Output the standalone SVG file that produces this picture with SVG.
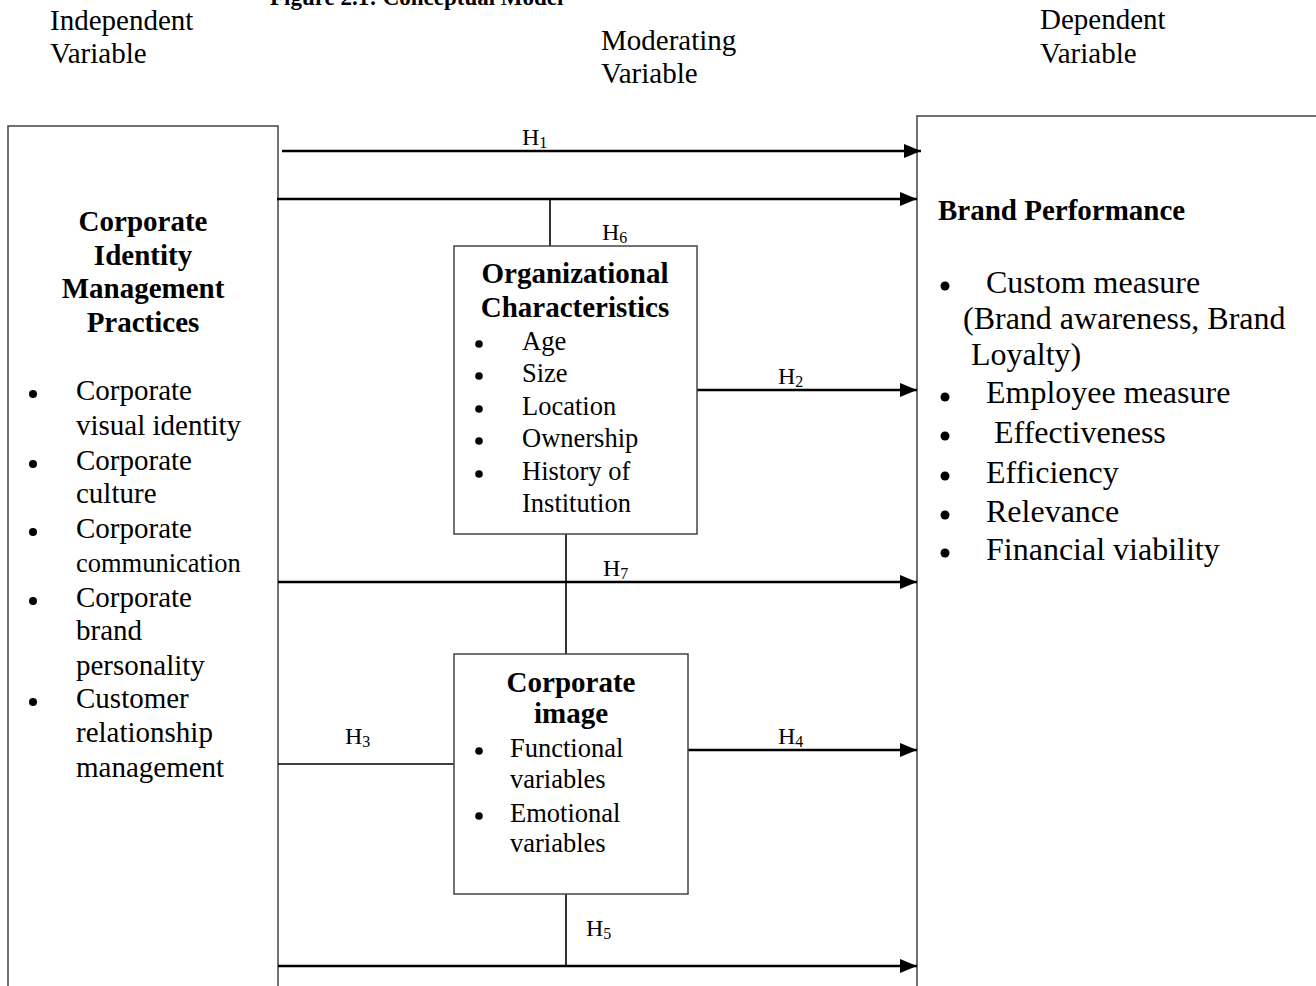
<svg xmlns="http://www.w3.org/2000/svg" width="1316" height="986" viewBox="0 0 1316 986">
<style>
text{font-family:"Liberation Serif","Times New Roman",serif;fill:#000}
.hd{font-size:29px}
.b{font-size:29px;font-weight:bold}
.l29{font-size:29px}
.l26{font-size:26.5px}
.l32{font-size:32px}
.h{font-size:24px}
.sub{font-size:16px}
.box{fill:#fff;stroke:#444;stroke-width:1.5}
.ln{stroke:#000;stroke-width:2.5;fill:none}
.thin{stroke:#000;stroke-width:1.6;fill:none}
.dot{fill:#000}
</style>
<defs>
<marker id="ah" markerUnits="userSpaceOnUse" markerWidth="17" markerHeight="14" refX="17" refY="7" orient="auto">
<path d="M0,0 L17,7 L0,14 z" fill="#000"/>
</marker>
</defs>
<rect width="1316" height="986" fill="#fff"/>

<text class="b" x="270" y="5" font-size="23" style="font-size:23px">Figure 2.1: Conceptual Model</text>

<g id="header-labels">
<text class="hd" x="50" y="30">Independent</text>
<text class="hd" x="50" y="63">Variable</text>
<text class="hd" x="601" y="50">Moderating</text>
<text class="hd" x="601" y="83">Variable</text>
<text class="hd" x="1040" y="29">Dependent</text>
<text class="hd" x="1040" y="63">Variable</text>
</g>

<g id="node-cimp">
<rect class="box" x="8" y="126" width="270" height="880"/>
<text class="b" x="143" y="231" text-anchor="middle">Corporate</text>
<text class="b" x="143" y="265" text-anchor="middle">Identity</text>
<text class="b" x="143" y="298" text-anchor="middle">Management</text>
<text class="b" x="143" y="332" text-anchor="middle">Practices</text>
<circle class="dot" cx="33" cy="394" r="4"/>
<text class="l29" x="76" y="400">Corporate</text>
<text class="l29" x="76" y="435">visual identity</text>
<circle class="dot" cx="33" cy="464" r="4"/>
<text class="l29" x="76" y="470">Corporate</text>
<text class="l29" x="76" y="503">culture</text>
<circle class="dot" cx="33" cy="532" r="4"/>
<text class="l29" x="76" y="538">Corporate</text>
<text class="l26" x="76" y="572">communication</text>
<circle class="dot" cx="33" cy="601" r="4"/>
<text class="l29" x="76" y="607">Corporate</text>
<text class="l29" x="76" y="640">brand</text>
<text class="l29" x="76" y="675">personality</text>
<circle class="dot" cx="33" cy="702" r="4"/>
<text class="l29" x="76" y="708">Customer</text>
<text class="l29" x="76" y="742">relationship</text>
<text class="l29" x="76" y="777">management</text>
</g>

<g id="node-brand">
<rect class="box" x="917" y="116" width="420" height="900"/>
<text class="b" x="938" y="220">Brand Performance</text>
<circle class="dot" cx="945" cy="286" r="4.5"/>
<text class="l32" x="986" y="293">Custom measure</text>
<text class="l32" x="963" y="329">(Brand awareness, Brand</text>
<text class="l32" x="971" y="365">Loyalty)</text>
<circle class="dot" cx="945" cy="397" r="4.5"/>
<text class="l32" x="986" y="403">Employee measure</text>
<circle class="dot" cx="945" cy="436" r="4.5"/>
<text class="l32" x="986" y="443" xml:space="preserve"> Effectiveness</text>
<circle class="dot" cx="945" cy="476" r="4.5"/>
<text class="l32" x="986" y="483">Efficiency</text>
<circle class="dot" cx="945" cy="515" r="4.5"/>
<text class="l32" x="986" y="522">Relevance</text>
<circle class="dot" cx="945" cy="553" r="4.5"/>
<text class="l32" x="986" y="560">Financial viability</text>
</g>

<g id="connectors">
<line class="ln" x1="282" y1="151" x2="921" y2="151" marker-end="url(#ah)"/>
<line class="ln" x1="277" y1="199" x2="917" y2="199" marker-end="url(#ah)"/>
<line class="thin" x1="550" y1="199" x2="550" y2="246"/>
<line class="ln" x1="693" y1="390" x2="917" y2="390" marker-end="url(#ah)"/>
<line class="thin" x1="566" y1="534" x2="566" y2="654"/>
<line class="ln" x1="278" y1="582" x2="917" y2="582" marker-end="url(#ah)"/>
<line class="thin" x1="278" y1="764" x2="454" y2="764"/>
<line class="ln" x1="688" y1="750" x2="917" y2="750" marker-end="url(#ah)"/>
<line class="thin" x1="566" y1="894" x2="566" y2="966"/>
<line class="ln" x1="278" y1="966" x2="917" y2="966" marker-end="url(#ah)"/>
<text class="h" x="522" y="145">H<tspan class="sub" dy="3">1</tspan></text>
<text class="h" x="602" y="240">H<tspan class="sub" dy="3">6</tspan></text>
<text class="h" x="778" y="384">H<tspan class="sub" dy="3">2</tspan></text>
<text class="h" x="603" y="576">H<tspan class="sub" dy="3">7</tspan></text>
<text class="h" x="345" y="744">H<tspan class="sub" dy="3">3</tspan></text>
<text class="h" x="778" y="744">H<tspan class="sub" dy="3">4</tspan></text>
<text class="h" x="586" y="936">H<tspan class="sub" dy="3">5</tspan></text>
</g>

<g id="node-org">
<rect class="box" x="454" y="246" width="243" height="288"/>
<text class="b" x="575" y="283" text-anchor="middle">Organizational</text>
<text class="b" x="575" y="317" text-anchor="middle">Characteristics</text>
<circle class="dot" cx="479" cy="344" r="3.8"/>
<text class="l26" x="522" y="350">Age</text>
<circle class="dot" cx="479" cy="376" r="3.8"/>
<text class="l26" x="522" y="382">Size</text>
<circle class="dot" cx="479" cy="409" r="3.8"/>
<text class="l26" x="522" y="415">Location</text>
<circle class="dot" cx="479" cy="441" r="3.8"/>
<text class="l26" x="522" y="447">Ownership</text>
<circle class="dot" cx="479" cy="474" r="3.8"/>
<text class="l26" x="522" y="480">History of</text>
<text class="l26" x="522" y="512">Institution</text>
</g>

<g id="node-image">
<rect class="box" x="454" y="654" width="234" height="240"/>
<text class="b" x="571" y="692" text-anchor="middle">Corporate</text>
<text class="b" x="571" y="723" text-anchor="middle">image</text>
<circle class="dot" cx="479" cy="751" r="3.8"/>
<text class="l26" x="510" y="757">Functional</text>
<text class="l26" x="510" y="788">variables</text>
<circle class="dot" cx="479" cy="816" r="3.8"/>
<text class="l26" x="510" y="822">Emotional</text>
<text class="l26" x="510" y="852">variables</text>
</g>
</svg>
